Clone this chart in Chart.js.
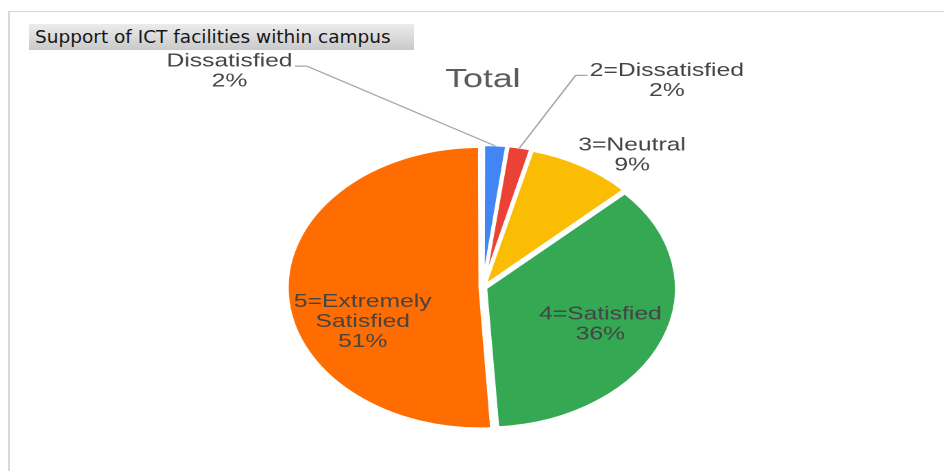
<!DOCTYPE html>
<html lang="en">
<head>
  <meta charset="UTF-8">
  <title>Support of ICT facilities within campus</title>
  <script src="https://cdn.jsdelivr.net/npm/chart.js"></script>
  <style>
    html, body { margin: 0; padding: 0; background: #fff; }
    #page { position: relative; width: 944px; height: 471px; overflow: hidden; }
    #frame {
      position: absolute; left: 8px; top: 11px; right: 0; bottom: 0;
      border-top: 1px solid #d9d9d9; border-left: 2px solid #d9d9d9;
    }
    #header {
      position: absolute; left: 29px; top: 24px; width: 379px; height: 26px;
      padding-left: 6px; z-index: 2;
      background: linear-gradient(#ececec, #c9c9c9);
      font: 18.5px "DejaVu Sans", Verdana, sans-serif; line-height: 26px; color: #161616;
      white-space: nowrap;
    }
    /* the original picture is stretched sideways, so the whole chart is too */
    #wrap {
      position: absolute; left: 0; top: 0; width: 689px; height: 471px;
      transform: scaleX(1.37); transform-origin: 0 0;
    }
  </style>
</head>
<body>
  <div id="page">
    <div id="frame"></div>
    <div id="header">Support of ICT facilities within campus</div>
    <div id="wrap"><canvas id="pieChart" width="689" height="471"></canvas></div>
  </div>
  <script>
    // data (percent of answers)
    const categories = ['Dissatisfied', '2=Dissatisfied', '3=Neutral', '4=Satisfied', '5=Extremely Satisfied'];
    const shares = [2, 2, 9, 36, 51];
    const sliceColors = ['#4285f4', '#ea4335', '#fbbc04', '#34a853', '#ff6d01'];

    // label block centre, relative to pie centre, in radii
    const labelPlacement = [[-1.331, -1.554], [0.966, -1.487], [0.783, -0.95], [0.617, 0.264], [-0.631, 0.246]];
    const hasLeader = [true, true, false, false, false];
    const lineGap = 20;
    const sliceOffset = 8; // chart.js moves an arc by offset / 4

    function wrapText(ctx, text, maxWidth) {
      const words = text.split(' ');
      const lines = [];
      let cur = '';
      words.forEach(w => {
        const test = cur ? cur + ' ' + w : w;
        if (cur && ctx.measureText(test).width > maxWidth) {
          lines.push(cur);
          cur = w;
        } else {
          cur = test;
        }
      });
      if (cur) lines.push(cur);
      return lines;
    }

    const pieLabels = {
      id: 'pieLabels',
      afterDatasetsDraw(chart) {
        const ctx = chart.ctx;
        const arcs = chart.getDatasetMeta(0).data;
        const values = chart.data.datasets[0].data;
        const total = values.reduce((a, b) => a + b, 0);
        ctx.save();
        ctx.font = '18px "Liberation Sans", Arial, sans-serif';
        ctx.textAlign = 'center';
        ctx.textBaseline = 'middle';
        arcs.forEach((arc, i) => {
          const r = arc.outerRadius;
          const lines = wrapText(ctx, chart.data.labels[i], 110);
          lines.push(Math.round(values[i] / total * 100) + '%');
          const cx = arc.x + labelPlacement[i][0] * r;
          const cy = arc.y + labelPlacement[i][1] * r;
          const top = cy - (lines.length - 1) * lineGap / 2;
          ctx.fillStyle = '#444444';
          lines.forEach((t, k) => ctx.fillText(t, cx, top + k * lineGap));

          if (hasLeader[i]) {
            const mid = (arc.startAngle + arc.endAngle) / 2;
            const ex = arc.x + Math.cos(mid) * (r + 3);
            const ey = arc.y + Math.sin(mid) * (r + 3);
            const w = ctx.measureText(lines[0]).width;
            const side = cx < ex ? 1 : -1;
            const ly = top + 4.5;
            ctx.strokeStyle = '#a6a6a6';
            ctx.lineWidth = 1.2;
            ctx.beginPath();
            ctx.moveTo(cx + side * (w / 2 + 1.7), ly);
            ctx.lineTo(cx + side * (w / 2 + 10.4), ly);
            ctx.lineTo(ex, ey);
            ctx.stroke();
          }
        });
        ctx.restore();
      }
    };

    const ctx = document.getElementById('pieChart').getContext('2d');
    new Chart(ctx, {
      type: 'pie',
      data: {
        labels: categories,
        datasets: [{
          data: shares,
          backgroundColor: sliceColors,
          borderColor: '#ffffff',
          borderWidth: 2.5,
          offset: sliceOffset
        }]
      },
      options: {
        responsive: false,
        animation: false,
        devicePixelRatio: 2,
        radius: 139,
        layout: { padding: { top: 64, bottom: 11, left: 20, right: 4 } },
        plugins: {
          legend: { display: false },
          tooltip: { enabled: false },
          title: {
            display: true,
            text: 'Total',
            color: '#5b5b5b',
            font: { family: '"Liberation Sans", Arial, sans-serif', size: 26, weight: 'normal' },
            padding: { top: 0, bottom: 20 }
          }
        }
      },
      plugins: [pieLabels]
    });
  </script>
</body>
</html>
